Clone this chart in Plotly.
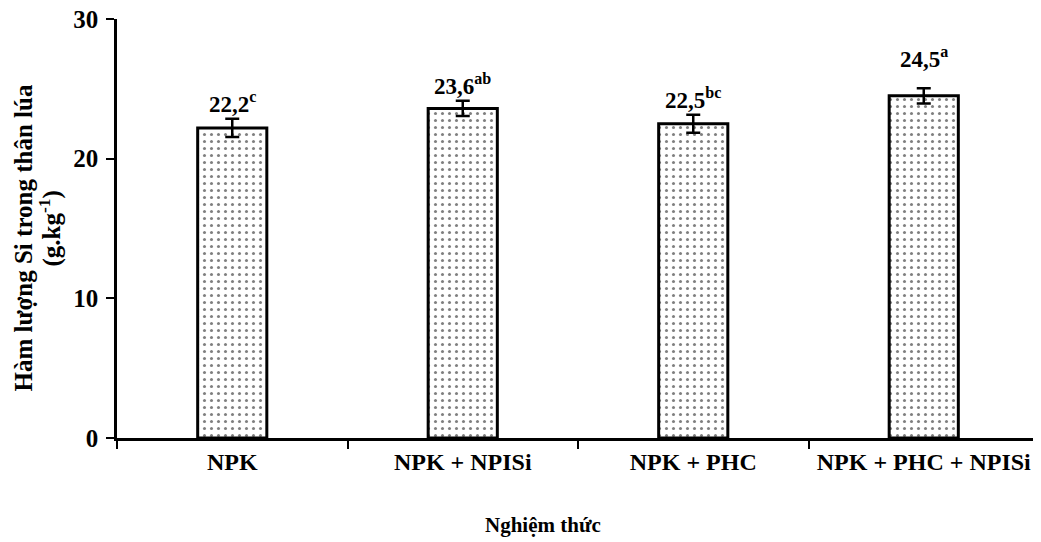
import plotly.graph_objects as go

categories = ["NPK", "NPK + NPISi", "NPK + PHC", "NPK + PHC + NPISi"]
si_content = [22.2, 23.6, 22.5, 24.5]
si_error = [0.65, 0.55, 0.65, 0.55]
value_labels = ["22,2", "23,6", "22,5", "24,5"]
letters = ["c", "ab", "bc", "a"]
y_ticks = [0, 10, 20, 30]

FONT = "Liberation Serif"

fig = go.Figure()
fig.add_trace(go.Bar(
    x=categories,
    y=si_content,
    width=0.3,
    marker=dict(
        color="white",
        line=dict(color="black", width=3),
        pattern=dict(shape=".", fgcolor="black", bgcolor="white", size=7, solidity=0.15),
    ),
    error_y=dict(type="data", array=si_error, visible=True, color="black", thickness=2.5, width=7),
    showlegend=False,
))

extra_shift = [0, 0, 0, 14]
for i, (c, v, e, lab, let) in enumerate(zip(categories, si_content, si_error, value_labels, letters)):
    fig.add_annotation(
        x=c, y=v + e,
        text=f"<b>{lab}<sup>{let}</sup></b>",
        showarrow=False,
        yanchor="bottom",
        yshift=0 + extra_shift[i],
        font=dict(family=FONT, size=23, color="black"),
    )

# axis titles
fig.add_annotation(
    xref="paper", yref="paper", x=0.462, y=0, yshift=-87, yanchor="middle",
    text="<b>Nghiệm thức</b>", showarrow=False,
    font=dict(family=FONT, size=21, color="black"),
)
fig.add_annotation(
    xref="paper", yref="paper", x=0, y=0.5, xshift=-94, yshift=-10,
    xanchor="center", yanchor="middle", textangle=-90,
    text="<b>Hàm lượng Si trong thân lúa</b>", showarrow=False,
    font=dict(family=FONT, size=25, color="black"),
)
fig.add_annotation(
    xref="paper", yref="paper", x=0, y=0.5, xshift=-67,
    xanchor="center", yanchor="middle", textangle=-90,
    text="<b>(g.kg<sup>-1</sup>)</b>", showarrow=False,
    font=dict(family=FONT, size=25, color="black"),
)

fig.update_layout(
    width=1033, height=534,
    margin=dict(l=109, r=2, t=11, b=104),
    plot_bgcolor="white", paper_bgcolor="white",
    font=dict(family=FONT, size=22, color="black"),
    bargap=0.7,
)
fig.update_xaxes(
    showline=True, linecolor="black", linewidth=2.5,
    ticks="outside", tickson="boundaries", ticklen=8, tickwidth=2, tickcolor="black",
    tickfont=dict(family=FONT, size=24, color="black"),
    tickvals=categories, ticktext=[f"<b>{c}</b>" for c in categories],
    showgrid=False, automargin=False,
)
fig.update_yaxes(
    range=[0, 30], tickvals=y_ticks, ticktext=[f"<b>{t}</b>" for t in y_ticks],
    showline=True, linecolor="black", linewidth=2.5,
    ticks="outside", ticklen=8, tickwidth=2, tickcolor="black",
    tickfont=dict(family=FONT, size=25, color="black"),
    ticklabeloverflow="allow", ticklabelstandoff=3,
    showgrid=False, zeroline=False, automargin=False,
)

fig.write_html("out.html")
